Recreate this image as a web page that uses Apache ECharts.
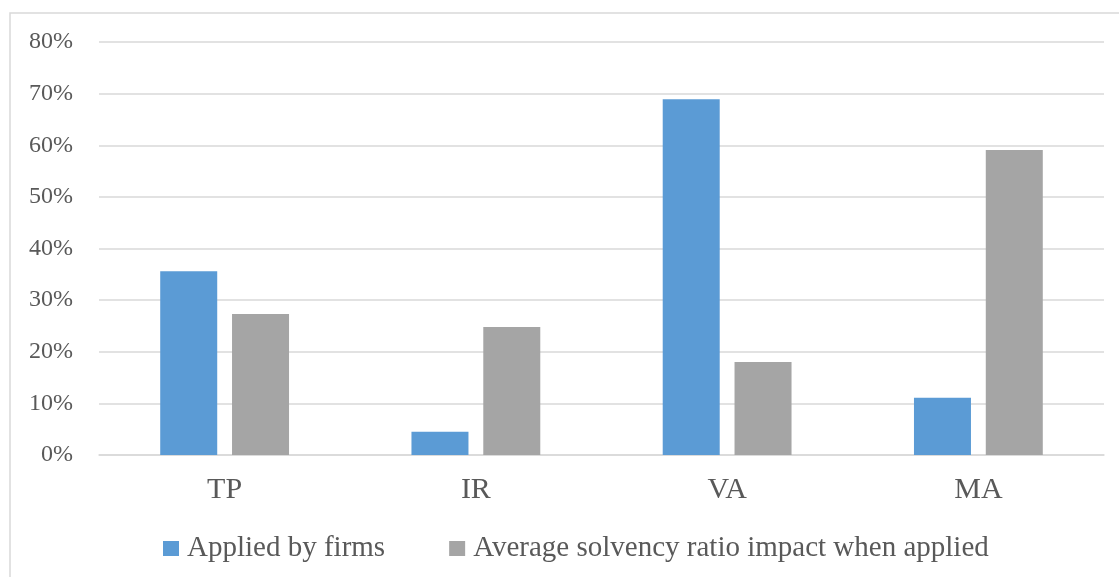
<!DOCTYPE html>
<html>
<head>
<meta charset="utf-8">
<script src="https://cdn.jsdelivr.net/npm/echarts@6/dist/echarts.min.js"></script>
<style>
  html, body { margin: 0; padding: 0; background: #fff; }
  #chart { width: 1119px; height: 577px; }
</style>
</head>
<body>
<div id="chart"></div>
<script>
  // categories and values (in %)
  var categories = ['TP', 'IR', 'VA', 'MA'];
  var appliedByFirms = [35.6, 4.5, 68.9, 11.1];
  var avgSolvencyImpact = [27.3, 24.8, 18.0, 59.1];
  var seriesNames = ['Applied by firms', 'Average solvency ratio impact when applied'];

  var font = 'Liberation Serif';
  var textColor = '#595959';

  var chart = echarts.init(document.getElementById('chart'));
  var option = {
    animation: false,
    textStyle: { fontFamily: font },
    // outer chart border
    graphic: [{
      type: 'rect',
      shape: { x: 10, y: 13, width: 1130, height: 600 },
      style: { fill: 'none', stroke: '#d9d9d9', lineWidth: 1.5 },
      silent: true
    }],
    grid: { left: 99, right: 15, top: 42, bottom: 122 },
    legend: {
      data: seriesNames,
      top: 529,
      left: 158,
      itemWidth: 16,
      itemHeight: 15,
      itemGap: 64,
      icon: 'rect',
      textStyle: { fontFamily: font, fontSize: 29, color: textColor, padding: [0, 0, 0, 3] }
    },
    xAxis: {
      type: 'category',
      data: categories,
      axisTick: { show: false },
      axisLine: { lineStyle: { color: '#d9d9d9', width: 1.5 } },
      axisLabel: { fontFamily: font, fontSize: 30, color: textColor, margin: 20 }
    },
    yAxis: {
      type: 'value',
      min: 0,
      max: 80,
      interval: 10,
      axisLine: { show: false },
      axisTick: { show: false },
      splitLine: { lineStyle: { color: '#d9d9d9', width: 1.5 } },
      axisLabel: {
        fontFamily: font, fontSize: 24, color: textColor, margin: 26,
        formatter: '{value}%'
      }
    },
    series: [
      {
        name: seriesNames[0],
        type: 'bar',
        data: appliedByFirms,
        barWidth: 57,
        barGap: '26%',
        itemStyle: { color: '#5b9bd5' }
      },
      {
        name: seriesNames[1],
        type: 'bar',
        data: avgSolvencyImpact,
        barWidth: 57,
        itemStyle: { color: '#a5a5a5' }
      }
    ]
  };
  chart.setOption(option);
</script>
</body>
</html>
